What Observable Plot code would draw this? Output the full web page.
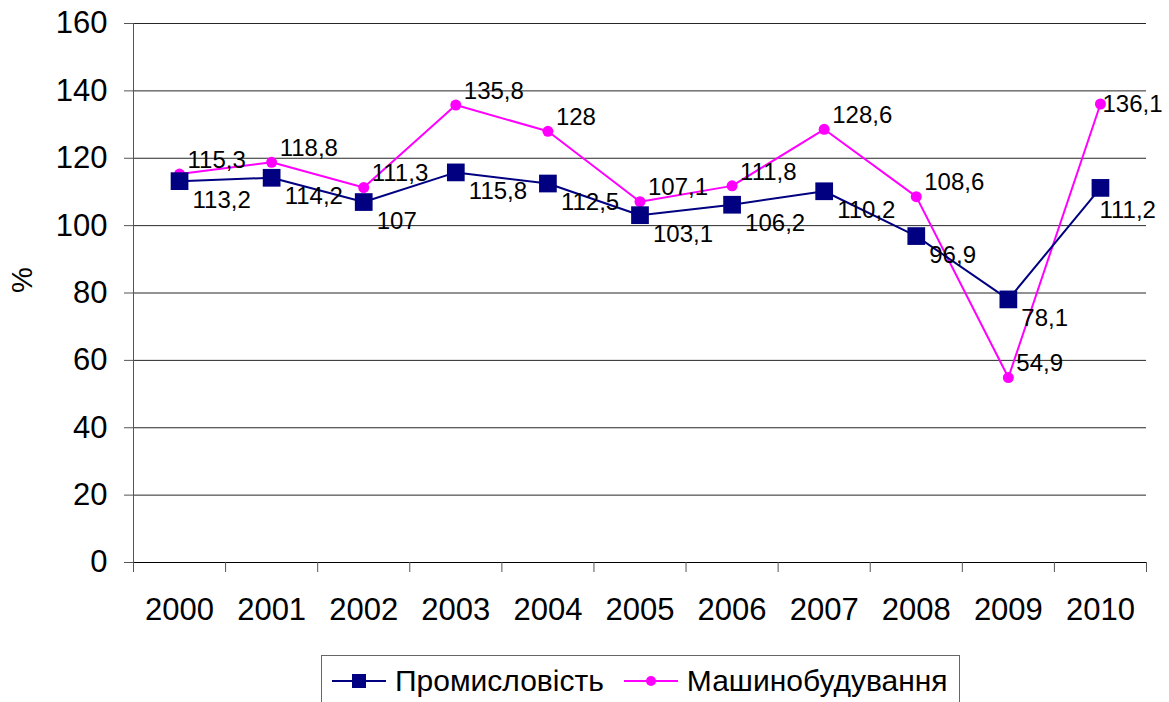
<!DOCTYPE html>
<html>
<head>
<meta charset="utf-8">
<script src="https://cdn.jsdelivr.net/npm/d3@7"></script>
<script src="https://cdn.jsdelivr.net/npm/@observablehq/plot@0.6"></script>
<style>
  html, body { margin: 0; padding: 0; background: #fff; }
  body { width: 1169px; height: 702px; position: relative; overflow: hidden; font-family: "Liberation Sans", Arial, sans-serif; }
  #chart { position: absolute; left: 0; top: 0; }
  #legend {
    position: absolute; left: 321px; top: 655px; height: 50px;
    border: 1px solid #666; box-sizing: content-box;
    display: flex; align-items: center; padding-left: 10px; padding-right: 11px;
    font-size: 30px; color: #000; white-space: nowrap;
  }
  #legend .item { display: flex; align-items: center; }
  #legend .item svg { display: block; margin-right: 9px; }
  #legend .item + .item { margin-left: 20px; }
</style>
</head>
<body>
<div id="chart"></div>
<div id="legend"></div>
<script>
// ---- data ----
const years = [2000, 2001, 2002, 2003, 2004, 2005, 2006, 2007, 2008, 2009, 2010];
const industry = [113.2, 114.2, 107, 115.8, 112.5, 103.1, 106.2, 110.2, 96.9, 78.1, 111.2];
const machinery = [115.3, 118.8, 111.3, 135.8, 128, 107.1, 111.8, 128.6, 108.6, 54.9, 136.1];
const seriesNames = ["Промисловість", "Машинобудування"];
const yTicks = [0, 20, 40, 60, 80, 100, 120, 140, 160];
const yLabel = "%";

// ---- build tables ----
const rowsInd = years.map((y, i) => ({year: y, value: industry[i], series: seriesNames[0]}));
const rowsMach = years.map((y, i) => ({year: y, value: machinery[i], series: seriesNames[1]}));
const fmt = v => String(v).replace(".", ",");
const lastYear = years[years.length - 1];
const boundaries = years.map(y => y - 0.5).concat([lastYear + 0.5]);

const NAVY = "#000080", MAGENTA = "#ff00ff";

const chart = Plot.plot({
  width: 1169,
  height: 640,
  marginLeft: 133,
  marginRight: 23,
  marginTop: 23,
  marginBottom: 78,
  style: {fontFamily: "'Liberation Sans', Arial, sans-serif", color: "#000", background: "#fff", overflow: "visible"},
  x: {type: "linear", domain: [years[0] - 0.5, lastYear + 0.5]},
  y: {domain: [yTicks[0], yTicks[yTicks.length - 1]]},
  marks: [
    Plot.gridY({ticks: yTicks, stroke: "#000", strokeOpacity: 0.85}),
    Plot.ruleX([years[0] - 0.5], {stroke: "#555"}),
    Plot.ruleY([0], {stroke: "#000"}),
    Plot.axisY({ticks: yTicks, tickSize: 9, tickPadding: 17, fontSize: 31, label: null, stroke: "#555"}),
    Plot.axisX({ticks: years, tickSize: 0, tickPadding: 35, fontSize: 31, tickFormat: d => String(d), label: null}),
    Plot.axisX({ticks: boundaries, tickSize: 10, tickFormat: () => "", label: null, stroke: "#555"}),
    Plot.text([yLabel], {frameAnchor: "left", rotate: -90, dx: -111, fontSize: 29, fill: "#000"}),
    // lines
    Plot.line(rowsMach, {x: "year", y: "value", stroke: MAGENTA, strokeWidth: 2}),
    Plot.line(rowsInd, {x: "year", y: "value", stroke: NAVY, strokeWidth: 2}),
    Plot.dot(rowsMach, {x: "year", y: "value", r: 5.5, fill: MAGENTA, stroke: "none"}),
    Plot.dot(rowsInd, {x: "year", y: "value", symbol: "square", r: 10, fill: NAVY, stroke: "none"}),
    // data labels
    Plot.text(rowsInd.filter(d => d.year !== lastYear), {x: "year", y: "value", text: d => fmt(d.value), textAnchor: "start", dx: 13, dy: 19, fontSize: 24, fill: "#000"}),
    Plot.text(rowsInd.filter(d => d.year === lastYear), {x: "year", y: "value", text: d => fmt(d.value), textAnchor: "start", dx: -1, dy: 22, fontSize: 24, fill: "#000"}),
    Plot.text(rowsMach.filter(d => d.year !== lastYear), {x: "year", y: "value", text: d => fmt(d.value), textAnchor: "start", dx: 8, dy: -14, fontSize: 24, fill: "#000"}),
    Plot.text(rowsMach.filter(d => d.year === lastYear), {x: "year", y: "value", text: d => fmt(d.value), textAnchor: "start", dx: 2, dy: 0, fontSize: 24, fill: "#000"})
  ]
});
document.getElementById("chart").appendChild(chart);

// ---- legend ----
const legend = document.getElementById("legend");
const swatches = [
  {name: seriesNames[0], color: NAVY, marker: `<rect x="20" y="3" width="14" height="14" fill="${NAVY}"/>`},
  {name: seriesNames[1], color: MAGENTA, marker: `<circle cx="27" cy="10" r="5" fill="${MAGENTA}"/>`}
];
for (const s of swatches) {
  const item = document.createElement("div");
  item.className = "item";
  item.innerHTML = `<svg width="54" height="20"><line x1="0" x2="54" y1="10" y2="10" stroke="${s.color}" stroke-width="2"/>${s.marker}</svg><span>${s.name}</span>`;
  legend.appendChild(item);
}
</script>
</body>
</html>
